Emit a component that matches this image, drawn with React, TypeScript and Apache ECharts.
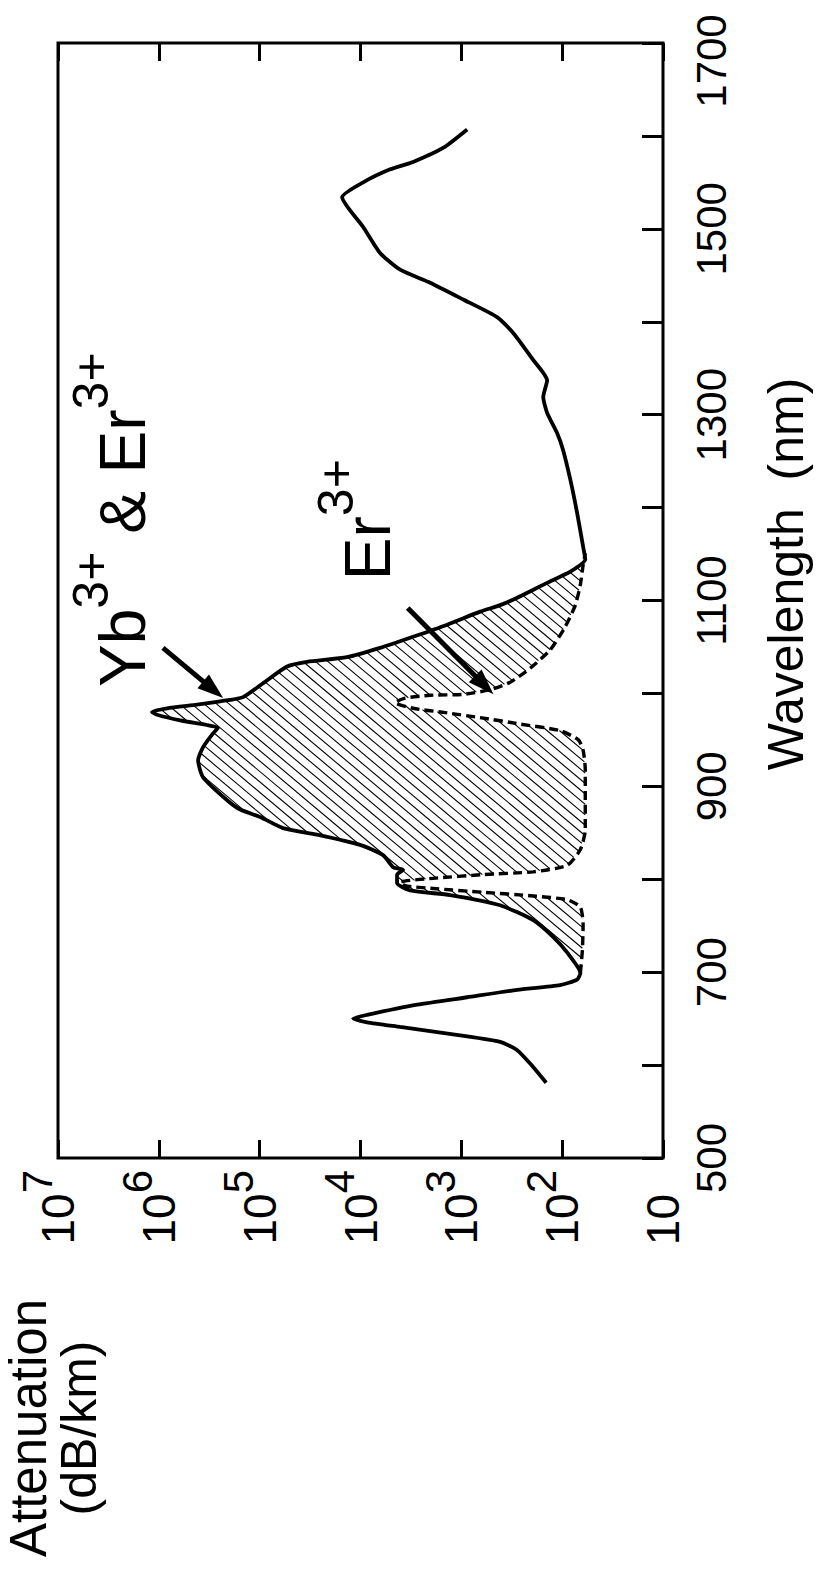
import React, { useEffect, useRef } from "react";
import * as echarts from "echarts";

const FONT = "'Liberation Sans', Arial, Helvetica, sans-serif";

// Yb3+ & Er3+ co-doped fibre: solid curve (wavelength nm, attenuation dB/km)
const solidWavelength = [
  581, 598, 616, 625, 632, 641, 646, 650, 654, 665, 673, 681, 686, 692, 699, 721, 738, 756, 772, 783,
  788, 796, 805, 810, 813, 826, 837, 848, 855, 867, 875, 885, 910, 928, 942, 957, 963, 966, 971, 977,
  980, 984, 988, 993, 996, 1011, 1029, 1034, 1039, 1049, 1061, 1074, 1088, 1095, 1103, 1119, 1131, 1144, 1158, 1194,
  1230, 1262, 1280, 1302, 1319, 1337, 1359, 1388, 1405, 1424, 1442, 1456, 1474, 1502, 1534, 1550, 1564, 1572, 1587, 1607,
];
const solidAttenuation = [
  144, 194, 279, 412, 1028, 4050, 8600, 11800, 8600, 2740, 875, 279, 105, 71, 66, 89, 123, 194, 412, 1290,
  3220, 4340, 4340, 3780, 4750, 5970, 10100, 27000, 58600, 99000, 156000, 210000, 365000, 408000, 365000, 290000, 259000, 333000, 616000, 1040000,
  1170000, 830000, 418000, 197000, 146000, 92500, 53500, 33900, 13600, 6400, 3010, 1380, 650, 412, 279, 141, 83, 59, 62, 71,
  83, 98, 112, 141, 154, 141, 194, 306, 442, 960, 2040, 4050, 6400, 9400, 15200, 9400, 5080, 3010, 1520, 875,
];

// Er3+ only: dashed curve
const erWavelength = [
  699, 724, 751, 770, 778, 782, 786, 790, 793, 797, 801, 805, 808, 815, 832, 853, 885, 918, 939, 950,
  960, 967, 974, 979, 984, 990, 995, 998, 999, 1004, 1012, 1027, 1047, 1072, 1095, 1117, 1138, 1151,
];
const erAttenuation = [
  66, 63, 62, 66, 89, 194, 608, 1900, 3610, 4050, 1900, 608, 194, 89, 66, 59, 59, 59, 62, 69,
  105, 261, 650, 1380, 3010, 4540, 3610, 2040, 960, 518, 328, 208, 131, 93, 74, 66, 62, 59,
];

// axis ranges / ticks
const wavelengthMin = 500;
const wavelengthMax = 1700;
const wavelengthTickStep = 100;
const wavelengthLabelStep = 200;
const attenuationMin = 10;
const attenuationMax = 1e7;

// annotation anchors, in data coordinates [attenuation, wavelength]
const ybLabelAnchor = [2.26e6, 1187];
const erLabelAnchor = [8400, 1187];
const ybArrowTail = [9.1e5, 1049];
const ybArrowHead = [2.3e5, 995];
const erArrowTail = [3400, 1092];
const erArrowHead = [480, 999];

export default function App() {
  const ref = useRef<HTMLDivElement>(null);

  useEffect(() => {
    const el = ref.current;
    if (!el) return;
    const chart = echarts.init(el, null, { renderer: "svg" });

    const solidData = solidWavelength.map((w, i) => [solidAttenuation[i], w]);
    const erData = erWavelength.map((w, i) => [erAttenuation[i], w]);
    const lo = erWavelength[0];
    const hi = erWavelength[erWavelength.length - 1];
    const hatchPolygon = [
      ...solidData.filter((p) => p[1] >= lo && p[1] <= hi),
      ...erData.slice().reverse(),
    ];

    const labelRich = {
      b: { fontSize: 46, fontFamily: FONT, color: "#000", lineHeight: 84 },
      p: { fontSize: 46, fontFamily: FONT, color: "#000", lineHeight: 84, padding: [0, 24, 0, 0] },
      s: { fontSize: 42, fontFamily: FONT, color: "#000", verticalAlign: "top" },
    };

    const option: any = {
      animation: false,
      backgroundColor: "#fff",
      grid: {
        left: 58,
        top: 43,
        width: 605,
        height: 1115,
        show: true,
        borderColor: "#000",
        borderWidth: 3,
        backgroundColor: "transparent",
        containLabel: false,
        outerBoundsMode: "none",
      },
      xAxis: [
        {
          type: "log",
          logBase: 10,
          min: attenuationMin,
          max: attenuationMax,
          inverse: true,
          splitNumber: 6,
          position: "bottom",
          axisLine: { show: false },
          axisTick: { show: true, inside: true, length: 18, lineStyle: { color: "#000", width: 3 } },
          minorTick: { show: false },
          splitLine: { show: false },
          axisLabel: {
            show: true,
            rotate: 90,
            margin: 12,
            formatter: (v: number) => {
              const e = Math.round(Math.log10(v));
              return e === 1 ? "{p|10}" : `{b|10}{s|${e}}`;
            },
            rich: labelRich,
          },
        },
        {
          type: "log",
          logBase: 10,
          min: attenuationMin,
          max: attenuationMax,
          inverse: true,
          splitNumber: 6,
          position: "top",
          axisLine: { show: false },
          axisTick: { show: true, inside: true, length: 18, lineStyle: { color: "#000", width: 3 } },
          minorTick: { show: false },
          splitLine: { show: false },
          axisLabel: { show: false },
        },
      ],
      yAxis: [
        {
          type: "value",
          min: wavelengthMin,
          max: wavelengthMax,
          interval: wavelengthTickStep,
          position: "right",
          axisLine: { show: false },
          axisTick: { show: true, inside: true, length: 21, lineStyle: { color: "#000", width: 3 } },
          splitLine: { show: false },
          axisLabel: {
            show: true,
            rotate: 90,
            margin: 27,
            fontSize: 42,
            lineHeight: 42,
            fontFamily: FONT,
            color: "#000",
            formatter: (v: number) => {
              if ((v - wavelengthMin) % wavelengthLabelStep !== 0) return "";
              return v === wavelengthMax ? `{m|${v}}` : String(v);
            },
            rich: {
              m: { fontSize: 42, lineHeight: 42, fontFamily: FONT, color: "#000", padding: [0, 36, 0, 0] },
            },
          },
        },
      ],
      series: [
        {
          type: "custom",
          name: "hatch",
          coordinateSystem: "cartesian2d",
          xAxisIndex: 0,
          yAxisIndex: 0,
          silent: true,
          z: 1,
          data: [[1000, 1000]],
          renderItem: (_params: any, api: any) => {
            const pts = hatchPolygon.map((p) => api.coord(p));
            const ang = (40 * Math.PI) / 180;
            const dx = Math.cos(ang);
            const dy = Math.sin(ang);
            const nx = -dy;
            const ny = dx;
            const cs = pts.map((p: number[]) => p[0] * nx + p[1] * ny);
            const cmin = Math.min(...cs);
            const cmax = Math.max(...cs);
            const step = 8;
            const children: any[] = [];
            for (let c = Math.ceil(cmin / step) * step; c <= cmax; c += step) {
              const us: number[] = [];
              for (let i = 0; i < pts.length; i++) {
                const j = (i + 1) % pts.length;
                const ca = cs[i];
                const cb = cs[j];
                if (ca < c !== cb < c) {
                  const t = (c - ca) / (cb - ca);
                  const x = pts[i][0] + t * (pts[j][0] - pts[i][0]);
                  const y = pts[i][1] + t * (pts[j][1] - pts[i][1]);
                  us.push(x * dx + y * dy);
                }
              }
              us.sort((a, b) => a - b);
              for (let k = 0; k + 1 < us.length; k += 2) {
                children.push({
                  type: "line",
                  shape: {
                    x1: c * nx + us[k] * dx,
                    y1: c * ny + us[k] * dy,
                    x2: c * nx + us[k + 1] * dx,
                    y2: c * ny + us[k + 1] * dy,
                  },
                  style: { stroke: "#000", lineWidth: 1.1 },
                });
              }
            }
            return { type: "group", children };
          },
        },
        {
          type: "line",
          name: "Er3+",
          data: erData,
          showSymbol: false,
          smooth: 0.2,
          z: 2,
          lineStyle: { color: "#000", width: 3.4, type: [9, 5] },
        },
        {
          type: "line",
          name: "Yb3+ & Er3+",
          data: solidData,
          showSymbol: false,
          smooth: 0.2,
          z: 3,
          lineStyle: { color: "#000", width: 3.8 },
        },
      ],
    };

    chart.setOption(option);

    const toPx = (v: number[]) =>
      chart.convertToPixel({ xAxisIndex: 0, yAxisIndex: 0 }, v) as unknown as number[];

    const arrow = (tail: number[], head: number[]) => {
      const T = toPx(tail);
      const H = toPx(head);
      const ddx = H[0] - T[0];
      const ddy = H[1] - T[1];
      const L = Math.hypot(ddx, ddy);
      const ux = ddx / L;
      const uy = ddy / L;
      const hl = 26;
      const hw = 9;
      const bx = H[0] - ux * hl;
      const by = H[1] - uy * hl;
      return [
        {
          type: "line",
          shape: { x1: T[0], y1: T[1], x2: bx + ux * 3, y2: by + uy * 3 },
          style: { stroke: "#000", lineWidth: 5 },
          z: 10,
        },
        {
          type: "polygon",
          shape: {
            points: [
              [H[0], H[1]],
              [bx - uy * hw, by + ux * hw],
              [bx + uy * hw, by - ux * hw],
            ],
          },
          style: { fill: "#000" },
          z: 10,
        },
      ];
    };

    const annRich = {
      b: { fontSize: 64, fontFamily: FONT, fill: "#000", color: "#000", lineHeight: 114 },
      s: { fontSize: 50, fontFamily: FONT, fill: "#000", color: "#000", verticalAlign: "top" },
    };

    const ybPos = toPx(ybLabelAnchor);
    const erPos = toPx(erLabelAnchor);

    const plainText = (text: string, x: number, y: number, size: number) => ({
      type: "text",
      x,
      y,
      rotation: Math.PI / 2,
      z: 10,
      style: {
        text,
        fontSize: size,
        fontFamily: FONT,
        fill: "#000",
        align: "center",
        verticalAlign: "middle",
        textAlign: "center",
        textVerticalAlign: "middle",
      },
    });

    chart.setOption({
      graphic: [
        ...arrow(ybArrowTail, ybArrowHead),
        ...arrow(erArrowTail, erArrowHead),
        {
          type: "text",
          x: ybPos[0],
          y: ybPos[1],
          rotation: Math.PI / 2,
          z: 10,
          style: {
            text: "{b|Yb}{s|3+}{b| & Er}{s|3+}",
            rich: annRich,
            fill: "#000",
            align: "center",
            verticalAlign: "middle",
            textAlign: "center",
            textVerticalAlign: "middle",
          },
        },
        {
          type: "text",
          x: erPos[0],
          y: erPos[1],
          rotation: Math.PI / 2,
          z: 10,
          style: {
            text: "{b|Er}{s|3+}",
            rich: annRich,
            fill: "#000",
            align: "center",
            verticalAlign: "middle",
            textAlign: "center",
            textVerticalAlign: "middle",
          },
        },
        plainText("Wavelength  (nm)", 786, 574, 50),
        plainText("Attenuation", 28, 1428, 51),
        plainText("(dB/km)", 79, 1428, 50),
      ],
    });

    return () => {
      chart.dispose();
    };
  }, []);

  return (
    <div
      ref={ref}
      style={{ position: "absolute", left: 0, top: 0, width: 819, height: 1577, background: "#fff" }}
    />
  );
}
